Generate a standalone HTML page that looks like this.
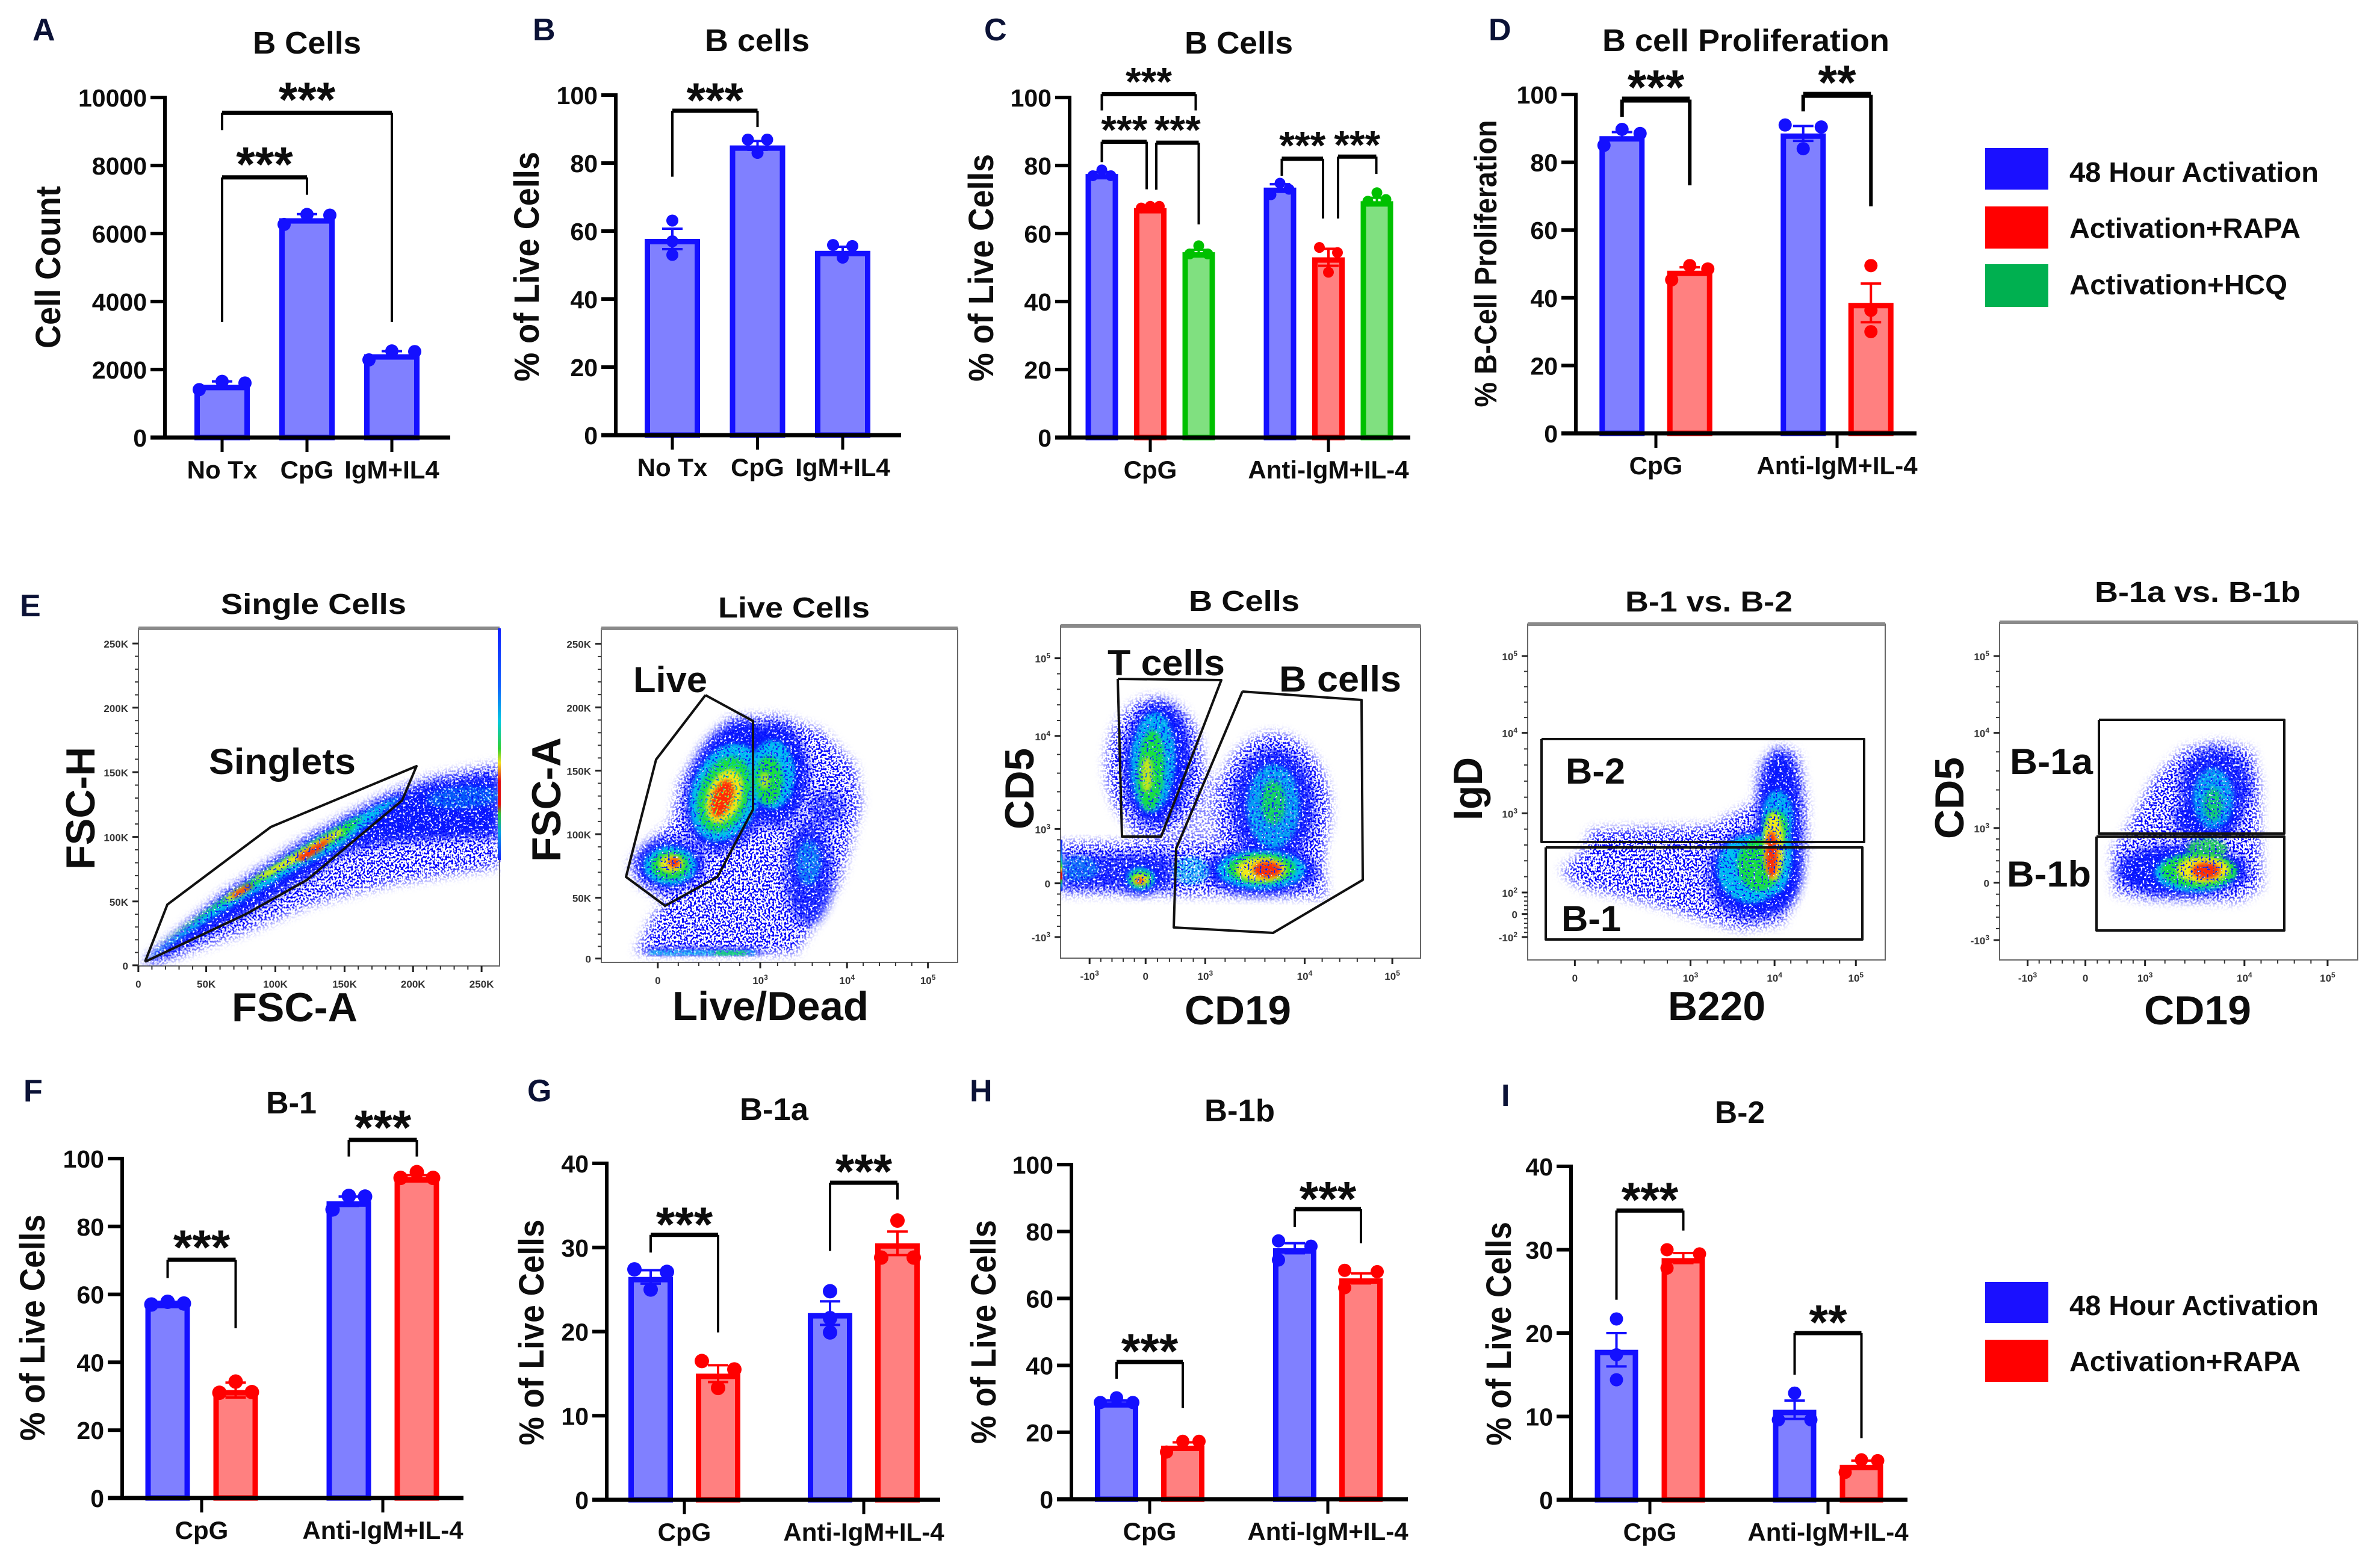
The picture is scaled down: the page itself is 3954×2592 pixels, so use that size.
<!DOCTYPE html>
<html lang="en">
<head>
<meta charset="utf-8">
<title>B cell activation figure</title>
<style>
html,body{margin:0;padding:0;background:#fff}
svg{display:block}
text{font-family:"Liberation Sans",Arial,sans-serif;font-weight:700;fill:#0d0d0d}
.letter{font-size:52px;fill:#0b1236}
.title{font-size:52px}
.ftitle{font-size:48px}
.faxis{font-size:68px}
.gate{font-size:60px}
.legend{font-size:46px}
</style>
</head>
<body>
<svg id="figure" xmlns="http://www.w3.org/2000/svg" width="3954" height="2592" viewBox="0 0 3954 2592">
<defs>
<filter id="speckle" x="-15%" y="-15%" width="130%" height="130%" color-interpolation-filters="sRGB">
<feGaussianBlur in="SourceGraphic" stdDeviation="9" result="b"/>
<feTurbulence type="fractalNoise" baseFrequency="0.3" numOctaves="1" seed="7" result="n"/>
<feColorMatrix in="n" type="matrix" values="0 0 0 0 0  0 0 0 0 0  0 0 0 0 0  0 0 0 11 -5.3" result="m"/>
<feComposite in="b" in2="m" operator="in"/>
</filter>
<filter id="dense" x="-20%" y="-20%" width="140%" height="140%" color-interpolation-filters="sRGB">
<feGaussianBlur in="SourceGraphic" stdDeviation="8" result="b"/>
<feTurbulence type="fractalNoise" baseFrequency="0.3" numOctaves="1" seed="11" result="n"/>
<feColorMatrix in="n" type="matrix" values="0 0 0 0 0  0 0 0 0 0  0 0 0 0 0  0 0 0 11 -4.1" result="m"/>
<feComposite in="b" in2="m" operator="in"/>
</filter>
<filter id="grain" x="-25%" y="-25%" width="150%" height="150%" color-interpolation-filters="sRGB">
<feGaussianBlur in="SourceGraphic" stdDeviation="3.5" result="b"/>
<feTurbulence type="fractalNoise" baseFrequency="0.3" numOctaves="1" seed="23" result="n"/>
<feColorMatrix in="n" type="matrix" values="0 0 0 0 0  0 0 0 0 0  0 0 0 0 0  0 0 0 11 -4.0" result="m"/>
<feComposite in="b" in2="m" operator="in"/>
</filter>
<linearGradient id="edge-rainbow" x1="0" y1="0" x2="0" y2="1">
<stop offset="0" stop-color="#1020ff"/><stop offset=".25" stop-color="#1060ff"/><stop offset=".4" stop-color="#00c8e0"/><stop offset=".52" stop-color="#30d030"/><stop offset=".58" stop-color="#f0e020"/><stop offset=".66" stop-color="#e01010"/><stop offset=".76" stop-color="#e01010"/><stop offset=".8" stop-color="#30c030"/><stop offset=".88" stop-color="#00a0e0"/><stop offset="1" stop-color="#1020ff"/>
</linearGradient>
<clipPath id="clip-p1"><rect x="230" y="1044" width="602" height="561"/></clipPath>
<clipPath id="clip-p2"><rect x="999" y="1044" width="592" height="555"/></clipPath>
<clipPath id="clip-p3"><rect x="1762" y="1040" width="598" height="552"/></clipPath>
<clipPath id="clip-p4"><rect x="2538" y="1037" width="594" height="558"/></clipPath>
<clipPath id="clip-p5"><rect x="3322" y="1034" width="595" height="561"/></clipPath>
</defs>

<text class="letter" x="54" y="67">A</text>
<text class="letter" x="885" y="67">B</text>
<text class="letter" x="1635" y="67">C</text>
<text class="letter" x="2473" y="67">D</text>
<text class="letter" x="33" y="1024">E</text>
<text class="letter" x="39" y="1830">F</text>
<text class="letter" x="876" y="1830">G</text>
<text class="letter" x="1611" y="1830">H</text>
<text class="letter" x="2494" y="1838">I</text>

<text class="title" x="420" y="89" textLength="180" lengthAdjust="spacingAndGlyphs">B Cells</text>
<text class="title" x="1171" y="85" textLength="174" lengthAdjust="spacingAndGlyphs">B cells</text>
<text class="title" x="1968" y="89" textLength="180" lengthAdjust="spacingAndGlyphs">B Cells</text>
<text class="title" x="2662" y="85" textLength="477" lengthAdjust="spacingAndGlyphs">B cell Proliferation</text>
<text class="title" x="442" y="1850" textLength="84" lengthAdjust="spacingAndGlyphs">B-1</text>
<text class="title" x="1229" y="1861" textLength="114" lengthAdjust="spacingAndGlyphs">B-1a</text>
<text class="title" x="2001" y="1863" textLength="117" lengthAdjust="spacingAndGlyphs">B-1b</text>
<text class="title" x="2849" y="1866" textLength="83" lengthAdjust="spacingAndGlyphs">B-2</text>

<rect x="3298" y="246" width="105" height="69" fill="#1a10ff"/>
<rect x="3298" y="343" width="105" height="70" fill="#ff0000"/>
<rect x="3298" y="439" width="105" height="71" fill="#00b050"/>
<text class="legend" x="3438" y="302" textLength="414" lengthAdjust="spacingAndGlyphs">48 Hour Activation</text>
<text class="legend" x="3438" y="395" textLength="384" lengthAdjust="spacingAndGlyphs">Activation+RAPA</text>
<text class="legend" x="3438" y="489" textLength="362" lengthAdjust="spacingAndGlyphs">Activation+HCQ</text>
<rect x="3298" y="2130" width="105" height="68" fill="#1a10ff"/>
<rect x="3298" y="2226" width="105" height="70" fill="#ff0000"/>
<text class="legend" x="3438" y="2185" textLength="414" lengthAdjust="spacingAndGlyphs">48 Hour Activation</text>
<text class="legend" x="3438" y="2278" textLength="384" lengthAdjust="spacingAndGlyphs">Activation+RAPA</text>

<text class="ftitle" x="367" y="1020" textLength="308" lengthAdjust="spacingAndGlyphs">Single Cells</text>
<text class="ftitle" x="1193" y="1026" textLength="252" lengthAdjust="spacingAndGlyphs">Live Cells</text>
<text class="ftitle" x="1975" y="1015" textLength="184" lengthAdjust="spacingAndGlyphs">B Cells</text>
<text class="ftitle" x="2700" y="1016" textLength="278" lengthAdjust="spacingAndGlyphs">B-1 vs. B-2</text>
<text class="ftitle" x="3480" y="1000" textLength="342" lengthAdjust="spacingAndGlyphs">B-1a vs. B-1b</text>

<text class="faxis" x="385" y="1697" textLength="209" lengthAdjust="spacingAndGlyphs">FSC-A</text>
<text class="faxis" x="1117" y="1695" textLength="326" lengthAdjust="spacingAndGlyphs">Live/Dead</text>
<text class="faxis" x="1968" y="1702" textLength="177" lengthAdjust="spacingAndGlyphs">CD19</text>
<text class="faxis" x="2771" y="1695" textLength="162" lengthAdjust="spacingAndGlyphs">B220</text>
<text class="faxis" x="3562" y="1702" textLength="178" lengthAdjust="spacingAndGlyphs">CD19</text>
<text class="faxis" transform="translate(157,1445) rotate(-90)" textLength="204" lengthAdjust="spacingAndGlyphs">FSC-H</text>
<text class="faxis" transform="translate(931,1432) rotate(-90)" textLength="207" lengthAdjust="spacingAndGlyphs">FSC-A</text>
<text class="faxis" transform="translate(1717,1378) rotate(-90)" textLength="135" lengthAdjust="spacingAndGlyphs">CD5</text>
<text class="faxis" transform="translate(2462,1363) rotate(-90)" textLength="105" lengthAdjust="spacingAndGlyphs">IgD</text>
<text class="faxis" transform="translate(3262,1394) rotate(-90)" textLength="136" lengthAdjust="spacingAndGlyphs">CD5</text>

<g id="flow-layer"></g>

<text class="gate" x="347" y="1286" textLength="244" lengthAdjust="spacingAndGlyphs">Singlets</text>
<text class="gate" x="1052" y="1150" textLength="123" lengthAdjust="spacingAndGlyphs">Live</text>
<text class="gate" x="1840" y="1122" textLength="195" lengthAdjust="spacingAndGlyphs">T cells</text>
<text class="gate" x="2125" y="1149" textLength="203" lengthAdjust="spacingAndGlyphs">B cells</text>
<text class="gate" x="2601" y="1302" textLength="99" lengthAdjust="spacingAndGlyphs">B-2</text>
<text class="gate" x="2594" y="1547" textLength="99" lengthAdjust="spacingAndGlyphs">B-1</text>
<text class="gate" x="3339" y="1286" textLength="138" lengthAdjust="spacingAndGlyphs">B-1a</text>
<text class="gate" x="3334" y="1473" textLength="140" lengthAdjust="spacingAndGlyphs">B-1b</text>
</svg>

<script>
/* ---------- bar chart data ---------- */
const panelA_categories = ['No Tx','CpG','IgM+IL4'];
const panelA_yTicks = [0,2000,4000,6000,8000,10000];
const panelA_means = [1550,6450,2450];
const panelA_sems = [100,120,90];
const panelA_points = [[1652,1603,1409],[6560,6540,6268],[2546,2527,2284]];
const panelA_slots = ['crl','crl','crl'];
const panelA_brackets = [[0,1,7650,3400,7140,'***',8350,0,0],[0,2,9550,9040,3400,'***',10250,0,0]];

const panelB_categories = ['No Tx','CpG','IgM+IL4'];
const panelB_yTicks = [0,20,40,60,80,100];
const panelB_means = [57.7,85.2,54.2];
const panelB_sems = [3,1.3,1.2];
const panelB_points = [[63.1,57,53],[83,86.9,86.9],[52.2,55.6,55.9]];
const panelB_slots = ['ccc','crl','crl'];
const panelB_brackets = [[0,1,95.4,76,90.6,'***',101.7,0,0]];

const panelC_categories = ['CpG','Anti-IgM+IL-4'];
const panelC_yTicks = [0,20,40,60,80,100];
const panelC_means = [77.5,67.5,54.5,73.5,53,69.5];
const panelC_sems = [0.6,0.3,0.7,1,2.5,1];
const panelC_points = [[78.7,77,77],[68,68,67.5],[56.4,54,54],[74.8,73,71.4],[48.6,54.4,55.9],[72,70,69.5]];
const panelC_slots = ['crl','crl','crl','crl','crl','crl'];
const panelC_brackets = [
  [0,2,101,96.2,96.2,'***',107.2,0,-5],
  [0,1,87,81,73,'***',93,0,-6],
  [1,2,86.7,72.9,62.7,'***',93,10,0],
  [3,4,82,77,64.4,'***',88.4,3,-9],
  [4,5,82.6,64.4,77.5,'***',88.6,16,-1]
];

const panelD_categories = ['CpG','Anti-IgM+IL-4'];
const panelD_yTicks = [0,20,40,60,80,100];
const panelD_means = [87.7,48,88.5,38.5];
const panelD_sems = [1.2,1,2.2,5.7];
const panelD_points = [[89.7,88.5,85],[49.5,48.5,45.3],[84,90.4,91],[49.5,36.3,30]];
const panelD_slots = ['crl','crl','crl','ccc'];
const panelD_brackets = [[0,1,98.5,93.4,73.2,'***',105.3,0,0],[2,3,99.9,95,67,'**',106.7,0,0]];

const panelF_categories = ['CpG','Anti-IgM+IL-4'];
const panelF_yTicks = [0,20,40,60,80,100];
const panelF_means = [57.5,31.8,87.4,94.5];
const panelF_sems = [0.3,2.2,1.4,0.6];
const panelF_points = [[57.8,57.3,57],[34.3,31.2,31],[89,88.8,85],[96,94.3,94.3]];
const panelF_slots = ['crl','crl','crl','crl'];
const panelF_brackets = [[0,1,70.2,64.8,50,'***',77,0,0],[2,3,105.5,100.6,100.6,'***',112.3,0,0]];

const panelG_categories = ['CpG','Anti-IgM+IL-4'];
const panelG_yTicks = [0,10,20,30,40];
const panelG_means = [26.5,15,22.2,30.5];
const panelG_sems = [0.8,1,1.4,1.4];
const panelG_points = [[25,27.1,27.4],[13.3,15.5,16.5],[24.8,21.6,19.9],[33.2,28.8,28.8]];
const panelG_slots = ['crl','crl','ccc','crl'];
const panelG_brackets = [[0,1,31.5,29.4,19.9,'***',34,0,0],[2,3,37.7,29.6,35.7,'***',40.3,0,0]];

const panelH_categories = ['CpG','Anti-IgM+IL-4'];
const panelH_yTicks = [0,20,40,60,80,100];
const panelH_means = [29,16,75,66];
const panelH_sems = [0.5,1,1.5,1.5];
const panelH_points = [[30.3,28.9,28.9],[17.3,17.3,14.1],[77.2,75.6,71.5],[68.4,68,63.2]];
const panelH_slots = ['crl','crl','lrl','lrl'];
const panelH_brackets = [[0,1,41,36,27.3,'***',47.5,0,0],[2,3,86.7,81.3,76.5,'***',93,0,0]];

const panelI_categories = ['CpG','Anti-IgM+IL-4'];
const panelI_yTicks = [0,10,20,30,40];
const panelI_means = [18,29,10.8,4.2];
const panelI_sems = [2,0.6,1.1,0.5];
const panelI_points = [[21.7,17.4,14.4],[30,29.5,27.8],[12.8,9.6,9.6],[4.8,4.7,3.3]];
const panelI_slots = ['ccc','lrl','crl','crl'];
const panelI_brackets = [[0,1,34.7,24,32.3,'***',37.3,0,0],[2,3,20,15,7.4,'**',22.6,0,0]];

const seriesStroke = ['#1410ff','#ff0000','#00c000'];
const seriesFill = ['#8080ff','#ff8080','#80e080'];

/* ---------- flow cytometry density estimates & gates ---------- */
/* density level: 0 sparse events, 1 dense blue, 2 cyan, 3 green, 4 yellow, 5 red */
const densityColors = ['#0000ff','#0818ff','#00c0f0','#18e040','#f4e818','#ff2a08'];
const densityFilters = ['url(#speckle)','url(#dense)','url(#grain)','url(#grain)','url(#grain)','url(#grain)'];

const plot1Density = [
  [0,1,['p',[238,1600,369,1485,508,1392,646,1318,715,1292,829,1270,829,1440,760,1450,646,1468,560,1490,508,1505,414,1545,260,1600]]],
  [1,1,['p',[236,1600,369,1490,438,1443,508,1397,577,1358,646,1323,715,1300,829,1283,829,1390,730,1395,646,1400,577,1415,508,1460,421,1512,275,1590]]],
  [2,.4,['e',770,1325,60,18,-4]],
  [2,1,['p',[240,1596,300,1550,369,1495,438,1449,508,1403,577,1364,646,1330,665,1325,620,1362,560,1410,500,1440,430,1480,360,1520,280,1570]]],
  [3,1,['p',[256,1574,369,1495,438,1450,508,1406,577,1366,604,1356,572,1392,500,1427,430,1467,360,1507,290,1552]]],
  [4,1,['p',[418,1462,508,1408,566,1376,570,1384,512,1422,440,1458]]],
  [4,1,['p',[372,1492,405,1472,412,1478,380,1498]]],
  [5,1,['p',[492,1424,530,1400,552,1390,534,1412,502,1432]]],
  [5,1,['p',[384,1486,415,1468,420,1474,390,1492]]]
];
const plot2Density = [
  [0,1,['p',[520,400,640,280,880,270,1100,350,1260,520,1290,700,1240,900,1180,1100,1060,1300,960,1450,170,1450,260,1260,330,1200,180,1100,140,1000,230,900,350,800,390,600]]],
  [1,1,['e',640,620,210,340,20]],
  [1,1,['e',860,560,170,260,0]],
  [1,1,['e',340,1010,170,130,0]],
  [1,.85,['e',1030,1050,120,260,0]],
  [1,.7,['e',1120,730,90,90,0]],
  [1,1,['p',[230,1420,800,1420,800,1460,230,1460]]],
  [2,1,['e',620,650,170,250,20]],
  [2,1,['e',850,560,110,170,0]],
  [2,1,['e',340,1015,130,95,0]],
  [2,.55,['e',1030,1000,60,110,0]],
  [2,.9,['p',[240,1438,760,1438,760,1460,240,1460]]],
  [3,1,['e',610,660,125,195,20]],
  [3,1,['e',830,590,70,120,0]],
  [3,1,['e',340,1015,95,70,0]],
  [3,1,['p',[560,1442,720,1442,720,1460,560,1460]]],
  [4,1,['e',610,670,85,140,20]],
  [4,1,['e',345,1005,60,42,0]],
  [4,.7,['e',810,590,25,40,0]],
  [5,1,['e',600,680,50,95,20]],
  [5,1,['e',360,1000,28,24,0]]
];
const plot3Density = [
  [0,.45,['e',650,900,300,300,0]],
  [0,1,['e',470,580,240,340,0]],
  [0,1,['e',1060,800,280,380,0]],
  [0,1,['p',[0,960,1300,960,1320,1230,0,1210]]],
  [1,1,['e',480,570,170,310,3]],
  [1,.9,['e',1060,780,210,290,0]],
  [1,1,['e',1000,1100,280,120,0]],
  [1,.85,['p',[0,1020,560,1020,560,1190,0,1190]]],
  [1,1,['e',400,1140,90,80,0]],
  [2,.9,['e',460,560,110,250,3]],
  [2,.8,['e',1060,780,130,210,0]],
  [2,1,['e',1000,1095,220,95,0]],
  [2,1,['e',400,1140,70,55,0]],
  [2,.45,['e',90,1090,100,60,0]],
  [2,.6,['e',650,1100,90,70,0]],
  [3,1,['e',450,600,65,200,3]],
  [3,.8,['e',1060,760,60,110,0]],
  [3,1,['e',1000,1090,170,75,0]],
  [3,1,['e',400,1140,55,40,0]],
  [4,.8,['e',430,620,28,90,0]],
  [4,1,['e',1000,1095,125,60,0]],
  [4,1,['e',400,1145,40,28,0]],
  [5,1,['e',1030,1095,70,40,0]],
  [5,1,['e',395,1150,20,14,0]]
];
const plot4Density = [
  [0,1,['p',[250,540,850,520,1070,400,1090,220,1180,120,1280,160,1320,400,1320,640,1280,850,1200,1000,1000,1030,800,980,550,900,200,820,100,740,220,640]]],
  [1,1,['e',1190,380,100,240,0]],
  [1,1,['e',1060,760,230,220,0]],
  [1,1,['e',1180,620,120,300,0]],
  [2,.9,['e',1180,470,75,130,0]],
  [2,1,['e',1050,730,170,170,0]],
  [2,1,['e',1170,650,80,200,0]],
  [3,1,['e',1170,530,60,90,0]],
  [3,1,['e',1090,710,110,130,0]],
  [4,1,['e',1160,620,50,170,0]],
  [5,1,['e',1150,660,30,115,0]]
];
const plot5Density = [
  [0,1,['p',[340,780,480,520,620,380,800,340,960,380,1000,550,1000,800,1010,1060,900,1130,450,1120,280,1090,270,880]]],
  [1,.9,['e',780,560,180,190,0]],
  [1,1,['e',740,720,170,100,0]],
  [1,1,['e',620,980,330,130,0]],
  [2,.8,['e',770,620,100,150,0]],
  [2,1,['e',680,990,200,95,0]],
  [3,.7,['e',770,650,45,80,0]],
  [3,1,['e',700,980,190,85,0]],
  [3,.8,['e',740,870,100,50,0]],
  [4,1,['e',720,975,130,65,0]],
  [5,1,['e',735,980,70,40,0]]
];

const plot1Gates = [[241,1598,278,1503,450,1374,692,1273,668,1330,510,1462,410,1518,241,1598]];
const plot2Gates = [[1172,1155,1251,1198,1251,1345,1192,1457,1105,1505,1040,1457,1090,1262,1172,1155]];
const plot3Gates = [[1857,1128,2029,1130,1929,1390,1864,1390,1857,1128],[2064,1149,2262,1163,2264,1462,2115,1550,1950,1541,1954,1410,2064,1149]];
const plot4Gates = [[2561,1228,3097,1228,3097,1399,2561,1399,2561,1228],[2568,1408,3094,1408,3094,1561,2568,1561,2568,1408]];
const plot5Gates = [[3487,1196,3795,1196,3795,1385,3487,1385,3487,1196],[3483,1390,3795,1390,3795,1546,3483,1546,3483,1390]];

const plot1XLabels = ['0','50K','100K','150K','200K','250K'];
const plot1XTicks = [212,316,422,528,633,738];
const plot1YLabels = ['0','50K','100K','150K','200K','250K'];
const plot1YTicks = [1262,1054,844,633,423,214];
const plot2XLabels = ['0','10^3','10^4','10^5'];
const plot2XTicks = [1008,1165,1298,1422];
const plot2YLabels = ['0','50K','100K','150K','200K','250K'];
const plot2YTicks = [1240,1042,835,628,422,215];
const plot3XLabels = ['-10^3','0','10^3','10^4','10^5'];
const plot3XTicks = [140,202,268,378,475];
const plot3YLabels = ['-10^3','0','10^3','10^4','10^5'];
const plot3YTicks = [1170,995,818,515,262];
const plot4XLabels = ['0','10^3','10^4','10^5'];
const plot4XTicks = [677,805,898,988];
const plot4YLabels = ['-10^2','0','10^2','10^3','10^4','10^5'];
const plot4YTicks = [1170,1095,1025,767,505,255];
const plot5XLabels = ['-10^3','0','10^3','10^4','10^5'];
const plot5XTicks = [1178,1242,1308,1418,1510];
const plot5YLabels = ['-10^3','0','10^3','10^4','10^5'];
const plot5YTicks = [1180,993,815,505,255];

/* ---------- helpers ---------- */
const NS = 'http://www.w3.org/2000/svg';
const svg = document.getElementById('figure');
function mk(tag, attrs, parent) {
  const e = document.createElementNS(NS, tag);
  for (const k in attrs) e.setAttribute(k, attrs[k]);
  (parent || svg).appendChild(e);
  return e;
}

function drawBarPanel(c) {
  const g = mk('g', {});
  
  
  const yOf = v => c.zero - (v / c.yTicks[c.yTicks.length - 1]) * (c.zero - c.top);
  const xOf = i => {
    const grp = Math.floor(i / c.groupSize), j = i % c.groupSize;
    return c.x0 + grp * c.groupStep + (j - (c.groupSize - 1) / 2) * c.barStep;
  };
  const seriesOf = i => c.groupSize === 1 ? 0 : i % c.groupSize;

  c.means.forEach((m, i) => {
    const s = seriesOf(i), sw = 9, x = xOf(i);
    const bar = mk('rect', {x: x - c.barW / 2 + sw / 2, y: yOf(m) + sw / 2, width: c.barW - sw,
      height: Math.max(0, c.zero - yOf(m) - sw / 2), fill: seriesFill[s], stroke: seriesStroke[s], 'stroke-width': sw}, g);
    
    

    const err = mk('path', {d: 'M' + x + ' ' + yOf(m + c.sems[i]) + 'V' + yOf(m - c.sems[i]) +
      'M' + (x - 17) + ' ' + yOf(m + c.sems[i]) + 'h34M' + (x - 17) + ' ' + yOf(m - c.sems[i]) + 'h34',
      fill: 'none', stroke: seriesStroke[s], 'stroke-width': 4}, g);
    
    

    c.points[i].forEach((v, k) => {
      const slot = c.slots[i][k], off = slot === 'l' ? -c.dotDx : slot === 'r' ? c.dotDx : 0;
      const dot = mk('circle', {cx: x + off, cy: yOf(v), r: c.dotR, fill: seriesStroke[s]}, g);
      
      
    });
  });

  const yAxis = mk('path', {d: 'M' + c.axisX + ' ' + (c.top - 3) + 'V' + (c.zero + 3), stroke: '#000', 'stroke-width': 6, fill: 'none'}, g);
  
  

  const xAxis = mk('path', {d: 'M' + (c.axisX - 24) + ' ' + c.zero + 'H' + c.right, stroke: '#000', 'stroke-width': 7, fill: 'none'}, g);
  
  

  c.yTicks.forEach(t => {
    const tick = mk('path', {d: 'M' + (c.axisX - 24) + ' ' + yOf(t) + 'H' + c.axisX, stroke: '#000', 'stroke-width': 6}, g);
    
    
    const lab = mk('text', {x: c.axisX - 30, y: yOf(t) + 15, 'text-anchor': 'end', 'font-size': 41}, g);
    lab.textContent = String(t);
    
    
  });

  c.categories.forEach((name, k) => {
    const gx = c.x0 + k * c.groupStep;
    const tick = mk('path', {d: 'M' + gx + ' ' + c.zero + 'v24', stroke: '#000', 'stroke-width': 5}, g);
    
    
    const lab = mk('text', {x: gx, y: c.zero + 68, 'text-anchor': 'middle', 'font-size': 42}, g);
    lab.textContent = name;
    
    
  });

  const yt = mk('text', {transform: 'translate(' + c.titleX + ',' + c.titleY + ') rotate(-90)', 'text-anchor': 'middle',
    'font-size': c.titleFs || 58, textLength: c.titleLen, lengthAdjust: 'spacingAndGlyphs'}, g);
  yt.textContent = c.yTitle;
  
  

  c.brackets.forEach((b, n) => {
    const xa = xOf(b[0]) + b[7], xb = xOf(b[1]) + b[8];
    const top = mk('path', {d: 'M' + xa + ' ' + yOf(b[2]) + 'H' + xb, stroke: '#000', 'stroke-width': c.brTop, fill: 'none'}, g);
    
    
    const legs = mk('path', {d: 'M' + xa + ' ' + yOf(b[2]) + 'V' + yOf(b[3]) + 'M' + xb + ' ' + yOf(b[2]) + 'V' + yOf(b[4]),
      stroke: '#000', 'stroke-width': c.brLeg, fill: 'none'}, g);
    
    
    const st = mk('text', {x: (xa + xb) / 2, y: yOf(b[6]) + c.starFs * 0.56, 'text-anchor': 'middle', 'font-size': c.starFs}, g);
    st.textContent = b[5];
    
    
  });
}

drawBarPanel({id:'panel-a',categories:panelA_categories,yTicks:panelA_yTicks,means:panelA_means,sems:panelA_sems,points:panelA_points,slots:panelA_slots,brackets:panelA_brackets,
  axisX:274,top:162,zero:727,right:748,x0:369,groupStep:141,groupSize:1,barStep:0,barW:92,dotDx:38,dotR:11,brTop:7,brLeg:4,starFs:81,yTitle:'Cell Count',titleX:100,titleY:444,titleLen:270});
drawBarPanel({id:'panel-b',categories:panelB_categories,yTicks:panelB_yTicks,means:panelB_means,sems:panelB_sems,points:panelB_points,slots:panelB_slots,brackets:panelB_brackets,
  axisX:1023,top:158,zero:723,right:1497,x0:1117,groupStep:141.5,groupSize:1,barStep:0,barW:92,dotDx:16,dotR:10,brTop:7,brLeg:4,starFs:81,yTitle:'% of Live Cells',titleX:895,titleY:443,titleLen:382});
drawBarPanel({id:'panel-c',categories:panelC_categories,yTicks:panelC_yTicks,means:panelC_means,sems:panelC_sems,points:panelC_points,slots:panelC_slots,brackets:panelC_brackets,
  axisX:1777,top:162,zero:727,right:2343,x0:1911,groupStep:296,groupSize:3,barStep:80.5,barW:54,dotDx:15,dotR:9,brTop:7,brLeg:4,starFs:66,yTitle:'% of Live Cells',titleX:1650,titleY:445,titleLen:378});
drawBarPanel({id:'panel-d',categories:panelD_categories,yTicks:panelD_yTicks,means:panelD_means,sems:panelD_sems,points:panelD_points,slots:panelD_slots,brackets:panelD_brackets,
  axisX:2618,top:157,zero:720,right:3184,x0:2751,groupStep:301,groupSize:2,barStep:112.5,barW:75,dotDx:30,dotR:11,brTop:10,brLeg:6,starFs:81,yTitle:'% B-Cell Proliferation',titleX:2486,titleY:438,titleLen:477,titleFs:52});
drawBarPanel({id:'panel-f',categories:panelF_categories,yTicks:panelF_yTicks,means:panelF_means,sems:panelF_sems,points:panelF_points,slots:panelF_slots,brackets:panelF_brackets,
  axisX:203,top:1925,zero:2489,right:770,x0:335,groupStep:301,groupSize:2,barStep:113,barW:74,dotDx:27,dotR:12,brTop:7,brLeg:4,starFs:81,yTitle:'% of Live Cells',titleX:74,titleY:2206,titleLen:376});
drawBarPanel({id:'panel-g',categories:panelG_categories,yTicks:panelG_yTicks,means:panelG_means,sems:panelG_sems,points:panelG_points,slots:panelG_slots,brackets:panelG_brackets,
  axisX:1008,top:1933,zero:2492,right:1562,x0:1137,groupStep:298,groupSize:2,barStep:112,barW:74,dotDx:27,dotR:12,brTop:7,brLeg:4,starFs:81,yTitle:'% of Live Cells',titleX:903,titleY:2214,titleLen:375});
drawBarPanel({id:'panel-h',categories:panelH_categories,yTicks:panelH_yTicks,means:panelH_means,sems:panelH_sems,points:panelH_points,slots:panelH_slots,brackets:panelH_brackets,
  axisX:1780,top:1935,zero:2491,right:2339,x0:1910,groupStep:296,groupSize:2,barStep:110,barW:72,dotDx:27,dotR:11,brTop:7,brLeg:4,starFs:81,yTitle:'% of Live Cells',titleX:1654,titleY:2213,titleLen:372});
drawBarPanel({id:'panel-i',categories:panelI_categories,yTicks:panelI_yTicks,means:panelI_means,sems:panelI_sems,points:panelI_points,slots:panelI_slots,brackets:panelI_brackets,
  axisX:2610,top:1938,zero:2492,right:3169,x0:2741,groupStep:296,groupSize:2,barStep:111,barW:72,dotDx:27,dotR:11,brTop:7,brLeg:4,starFs:81,yTitle:'% of Live Cells',titleX:2510,titleY:2216,titleLen:372});

/* ---------- flow plots ---------- */
const flowLayer = document.getElementById('flow-layer');
function drawFlowPlot(p) {
  const X = x => p.ox + x * p.s, Y = y => p.oy + y * p.s;
  const g = mk('g', {}, flowLayer);
  
  

  const frame = mk('rect', {x: p.fx, y: p.fy, width: p.fw, height: p.fh, fill: '#fff', stroke: '#666', 'stroke-width': 2}, g);
  
  

  const clip = mk('g', {'clip-path': 'url(#' + p.clip + ')'}, g);
  
  
  p.density.forEach((d, i) => {
    const shape = d[2];
    const attrs = {fill: densityColors[d[0]], opacity: d[1], filter: densityFilters[d[0]]};
    let node;
    if (shape[0] === 'e') {
      const cx = X(shape[1]), cy = Y(shape[2]);
      Object.assign(attrs, {cx: cx, cy: cy, rx: shape[3] * p.s, ry: shape[4] * p.s, transform: 'rotate(' + shape[5] + ' ' + cx + ' ' + cy + ')'});
      node = 'ellipse';
    } else {
      const pts = [];
      for (let k = 0; k < shape[1].length; k += 2) pts.push(X(shape[1][k]) + ',' + Y(shape[1][k + 1]));
      attrs.points = pts.join(' ');
      node = 'polygon';
    }
    const m = mk(node, attrs, clip);
    
    
  });

  const topBar = mk('path', {d: 'M' + p.fx + ' ' + p.fy + 'h' + p.fw, stroke: '#8a8a8a', 'stroke-width': 6}, g);
  
  

  p.gates.forEach((gate, i) => {
    const pts = [];
    for (let k = 0; k < gate.length; k += 2) pts.push(gate[k] + ',' + gate[k + 1]);
    const pl = mk('polyline', {points: pts.join(' '), fill: 'none', stroke: '#111', 'stroke-width': 4, 'stroke-linejoin': 'round'}, g);
    
    
  });

  const bottom = p.fy + p.fh, left = p.fx;
  p.xTicks.forEach((t, i) => {
    const px = p.tickX(t);
    const tk = mk('path', {d: 'M' + px + ' ' + bottom + 'v10', stroke: '#222', 'stroke-width': 3}, g);
    
    
    addLabel(g, p, px, bottom + 36, 'middle', p.xLabels[i], 'x', i);
    if (i < p.xTicks.length - 1) addMinor(g, p, px, p.tickX(p.xTicks[i + 1]), bottom, 'x', i);
  });
  p.yTicks.forEach((t, i) => {
    const py = p.tickY(t);
    const tk = mk('path', {d: 'M' + left + ' ' + py + 'h-10', stroke: '#222', 'stroke-width': 3}, g);
    
    
    addLabel(g, p, left - 17, py + 7, 'end', p.yLabels[i], 'y', i);
    if (i < p.yTicks.length - 1) addMinor(g, p, py, p.tickY(p.yTicks[i + 1]), left, 'y', i);
  });
}
function addMinor(g, p, a, b, base, axis, i) {
  let d = '';
  for (let k = 1; k < 5; k++) {
    const v = a + (b - a) * k / 5;
    d += axis === 'x' ? 'M' + v + ' ' + base + 'v6' : 'M' + base + ' ' + v + 'h-6';
  }
  const m = mk('path', {d: d, stroke: '#333', 'stroke-width': 2, fill: 'none'}, g);
  
  
}
function addLabel(g, p, x, y, anchor, text, axis, i) {
  const t = mk('text', {x: x, y: y, 'text-anchor': anchor, 'font-size': 17, style: 'fill:#333'}, g);
  
  
  const parts = text.split('^');
  t.appendChild(document.createTextNode(parts[0]));
  if (parts[1]) {
    const s = mk('tspan', {dy: -7, 'font-size': 12}, t);
    s.textContent = parts[1];
  }
}

const sx1 = 1 / 0.9224, sy2 = 1 / 1.96, sx3 = 1 / 0.6661;
drawFlowPlot({id:'flow-plot-single-cells',clip:'clip-p1',ox:0,oy:0,s:1,fx:230,fy:1044,fw:600,fh:561,density:plot1Density,gates:plot1Gates,
  xTicks:plot1XTicks,xLabels:plot1XLabels,yTicks:plot1YTicks,yLabels:plot1YLabels,tickX:x=>x*sx1,tickY:y=>960+y*sy2});
drawFlowPlot({id:'flow-plot-live-cells',clip:'clip-p2',ox:1000,oy:1100,s:1/3,fx:999,fy:1044,fw:592,fh:555,density:plot2Density,gates:plot2Gates,
  xTicks:plot2XTicks,xLabels:plot2XLabels,yTicks:plot2YTicks,yLabels:plot2YLabels,tickX:x=>x*sx1,tickY:y=>960+y*sy2});
drawFlowPlot({id:'flow-plot-b-cells',clip:'clip-p3',ox:1762,oy:1080,s:1/3,fx:1762,fy:1040,fw:598,fh:552,density:plot3Density,gates:plot3Gates,
  xTicks:plot3XTicks,xLabels:plot3XLabels,yTicks:plot3YTicks,yLabels:plot3YLabels,tickX:x=>1600+x*sx3,tickY:y=>960+y*sy2});
drawFlowPlot({id:'flow-plot-b1-b2',clip:'clip-p4',ox:2560,oy:1200,s:1/3,fx:2538,fy:1037,fw:594,fh:558,density:plot4Density,gates:plot4Gates,
  xTicks:plot4XTicks,xLabels:plot4XLabels,yTicks:plot4YTicks,yLabels:plot4YLabels,tickX:x=>1600+x*sx3,tickY:y=>960+y*sy2});
drawFlowPlot({id:'flow-plot-b1a-b1b',clip:'clip-p5',ox:3420,oy:1120,s:1/3,fx:3322,fy:1034,fw:595,fh:561,density:plot5Density,gates:plot5Gates,
  xTicks:plot5XTicks,xLabels:plot5XLabels,yTicks:plot5YTicks,yLabels:plot5YLabels,tickX:x=>1600+x*sx3,tickY:y=>960+y*sy2});

const edge = mk('rect', {x: 827, y: 1044, width: 5, height: 385, fill: 'url(#edge-rainbow)'}, flowLayer);


const edge3 = mk('rect', {x: 1762, y: 1395, width: 3, height: 85, fill: 'url(#edge-rainbow)'}, flowLayer);


</script>
</body>
</html>
